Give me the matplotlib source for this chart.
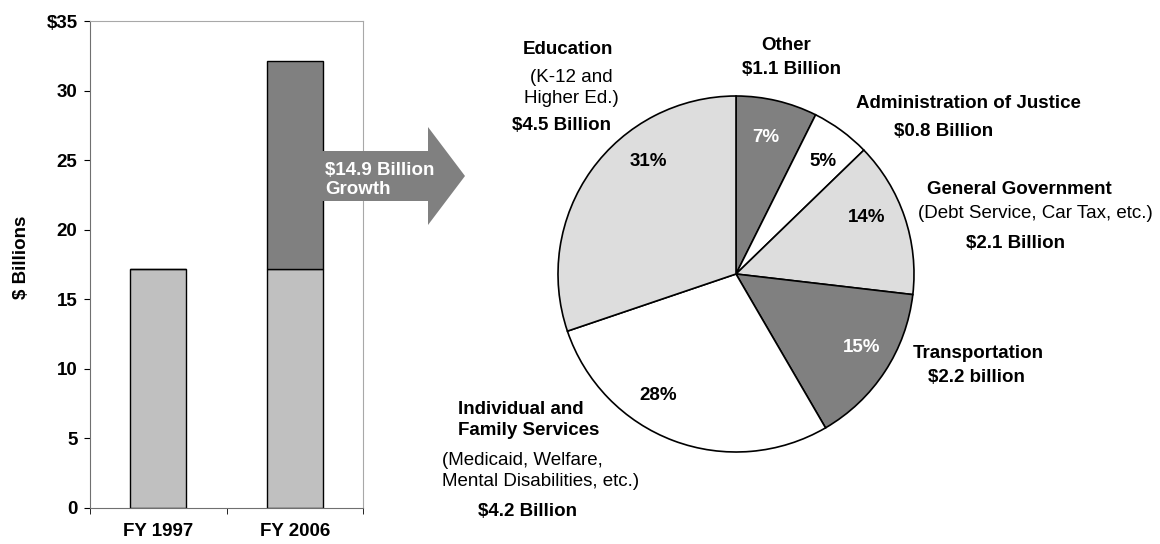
import matplotlib
matplotlib.use("Agg")
import matplotlib.pyplot as plt
from matplotlib.patches import FancyArrow
from matplotlib.ticker import FixedLocator, FuncFormatter

plt.rcParams['font.family'] = ['Liberation Sans', 'DejaVu Sans']

# Data
years = ["FY 1997", "FY 2006"]
base_spending = [17.2, 17.2]
growth = [0.0, 14.9]
growth_label = "$14.9 Billion\nGrowth"

categories = ["Other", "Administration of Justice", "General Government",
              "Transportation", "Individual and\nFamily Services", "Education"]
amounts = [1.1, 0.8, 2.1, 2.2, 4.2, 4.5]  # $ billions of growth
pct_labels = ["7%", "5%", "14%", "15%", "28%", "31%"]
details = ["", "", "(Debt Service, Car Tax, etc.)", "",
           "(Medicaid, Welfare,\nMental Disabilities, etc.)", "(K-12 and\nHigher Ed.)"]
amount_labels = ["$1.1 Billion", "$0.8 Billion", "$2.1 Billion",
                 "$2.2 billion", "$4.2 Billion", "$4.5 Billion"]

# Styling
DARK = "#808080"
LIGHT = "#DDDDDD"
BAR_LIGHT = "#C0C0C0"
slice_colors = [DARK, "white", LIGHT, DARK, "white", LIGHT]
pct_colors = ["white", "black", "black", "white", "black", "black"]
FS = 13.5
W, H = 1160, 544

fig = plt.figure(figsize=(W / 100, H / 100), dpi=100)

# ---- Bar chart ----
ax = fig.add_axes([90 / W, 1 - 508 / H, 273 / W, 487 / H])
x = [0.5, 1.5]
ax.bar(x, base_spending, width=0.41, color=BAR_LIGHT, edgecolor="black", linewidth=1.0)
ax.bar(x, growth, width=0.41, bottom=base_spending, color=DARK, edgecolor="black", linewidth=1.0)
ax.set_xlim(0, 2)
ax.set_ylim(0, 35)
ax.set_yticks(range(0, 36, 5))
ax.yaxis.set_major_formatter(FuncFormatter(lambda v, p: "$%d" % v if v == 35 else "%d" % v))
ax.set_xticks(x)
ax.set_xticklabels(years)
ax.xaxis.set_minor_locator(FixedLocator([0, 1, 2]))
ax.tick_params(axis="x", which="major", length=0, pad=11, labelsize=FS)
ax.tick_params(axis="x", which="minor", length=4, direction="out", color="black")
ax.tick_params(axis="y", length=4, direction="out", color="black", pad=5, labelsize=FS)
for lab in ax.get_xticklabels() + ax.get_yticklabels():
    lab.set_fontweight("bold")
for s in ["top", "right"]:
    ax.spines[s].set_color("#A8A8A8")
for s in ["left", "bottom"]:
    ax.spines[s].set_color("#707070")
fig.text(22 / W, 1 - 257 / H, "$ Billions", rotation=90, ha="center", va="center",
         fontsize=FS, fontweight="bold")

# ---- Overlay in pixel coordinates: arrow + pie ----
ov = fig.add_axes([0, 0, 1, 1])
ov.patch.set_alpha(0)

ov.add_patch(FancyArrow(320, 176, 145, 0, width=50, head_width=98, head_length=37,
                        length_includes_head=True, color=DARK, linewidth=0))
ov.text(325, 180, growth_label, color="white", fontsize=FS, fontweight="bold",
        ha="left", va="center", linespacing=1.1)

# y axis is inverted, so counterclock=True draws clockwise on screen
wedges, _ = ov.pie(amounts, colors=slice_colors, startangle=-90, counterclock=True,
                   center=(736, 274), radius=178,
                   wedgeprops=dict(edgecolor="black", linewidth=1.2))

ov.set_xlim(0, W)
ov.set_ylim(H, 0)
ov.set_aspect("equal")
ov.axis("off")

# percent labels inside slices
pct_pos = [(766, 137), (823, 161), (867, 217), (862, 347), (658, 395), (648, 161)]
for (px, py), lab, c in zip(pct_pos, pct_labels, pct_colors):
    ov.text(px, py, lab, color=c, fontsize=FS, fontweight="bold", ha="center", va="center")

# category labels: (title, detail, amount) positions
title_pos = [(786, 45, "center"), (968, 103, "center"), (1019, 190, "center"),
             (978, 353, "center"), (458, 420, "left"), (568, 50, "center")]
detail_pos = [None, None, (1035, 214, "center"), None, (442, 471, "left"), (571, 88, "center")]
amount_pos = [(792, 69), (944, 131), (1016, 244), (976, 378), (527, 512), (562, 126)]

for i in range(len(categories)):
    tx, ty, ha = title_pos[i]
    ov.text(tx, ty, categories[i], fontsize=FS, fontweight="bold", ha=ha, va="center",
            linespacing=1.3)
    if detail_pos[i] is not None:
        dx, dy, dha = detail_pos[i]
        ov.text(dx, dy, details[i], fontsize=FS, ha=dha, va="center", linespacing=1.25)
    ax_, ay_ = amount_pos[i]
    ov.text(ax_, ay_, amount_labels[i], fontsize=FS, fontweight="bold", ha="center", va="center")

fig.savefig("out.png", dpi=100)
